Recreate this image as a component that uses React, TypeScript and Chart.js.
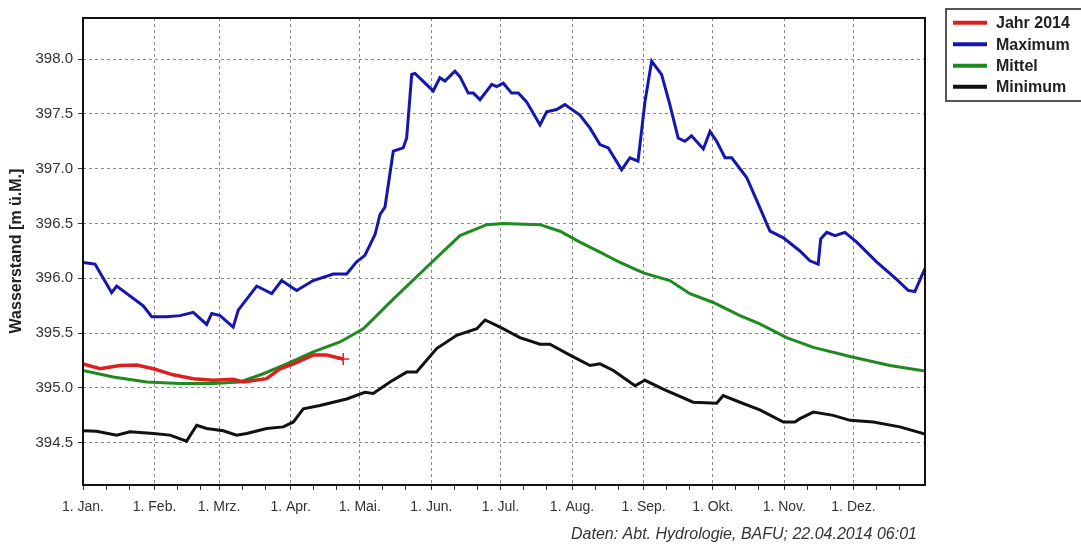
import { useEffect, useRef } from 'react';
import { Chart, registerables } from 'chart.js';

Chart.register(...registerables);

// ---- axis definitions ----
const X_MONTH_DAYS = [0, 31, 59, 90, 120, 151, 181, 212, 243, 273, 304, 334];
const X_MONTH_LABELS = ['1. Jan.', '1. Feb.', '1. Mrz.', '1. Apr.', '1. Mai.', '1. Jun.', '1. Jul.', '1. Aug.', '1. Sep.', '1. Okt.', '1. Nov.', '1. Dez.'];
const X_MINOR_DAYS = [10, 20, 41, 51, 69, 79, 100, 110, 130, 140, 161, 171, 191, 201, 222, 232, 253, 263, 283, 293, 314, 324, 344, 354];
const Y_TICKS = [394.5, 395.0, 395.5, 396.0, 396.5, 397.0, 397.5, 398.0];
const Y_MIN = 394.115;
const Y_MAX = 398.375;

// ---- series: day of year / water level [m ü.M.] ----
const JAHR_DAYS = [0, 7.4, 16, 23.3, 30.5, 39.1, 47.8, 56.5, 65.1, 69.5, 79.6, 85.4, 91.2, 99.8, 105.6, 112.8];
const JAHR_VALUES = [395.22, 395.175, 395.205, 395.21, 395.175, 395.12, 395.085, 395.07, 395.08, 395.055, 395.085, 395.175, 395.22, 395.3, 395.3, 395.265];

const MAX_DAYS = [0, 5.2, 12.4, 14.6, 26.1, 29.8, 36.3, 42, 47.8, 53.6, 55.8, 59.4, 65.1, 67.3, 75.3, 81.8, 86.1, 92.6, 99.8, 108.5, 114.3, 118.6, 122.2, 126.6, 128.7, 130.9, 134.5, 138.8, 140.3, 142.5, 143.9, 151.8, 154.7, 156.9, 161.2, 163.4, 167, 169.2, 172.1, 177.2, 179.3, 182.2, 185.8, 188.7, 192.3, 198.1, 201, 205.3, 208.9, 215.4, 219.8, 224.1, 227.7, 233.5, 237.1, 240.6, 243.6, 246.5, 250.8, 254.4, 258, 260.9, 263.8, 268.9, 271.8, 274.7, 278.3, 281.2, 287.7, 292.7, 297.8, 303.6, 310.8, 315.1, 318.7, 319.8, 322.4, 326, 330.3, 335.4, 344, 352.7, 357.7, 360.6, 363.5, 365];
const MAX_VALUES = [396.145, 396.13, 395.87, 395.93, 395.75, 395.65, 395.65, 395.66, 395.69, 395.58, 395.68, 395.66, 395.555, 395.71, 395.93, 395.86, 395.98, 395.89, 395.98, 396.04, 396.04, 396.15, 396.21, 396.4, 396.58, 396.65, 397.16, 397.19, 397.28, 397.86, 397.87, 397.71, 397.83, 397.8, 397.89, 397.84, 397.69, 397.69, 397.63, 397.77, 397.75, 397.78, 397.69, 397.69, 397.61, 397.4, 397.52, 397.54, 397.585, 397.49, 397.37, 397.22, 397.19, 396.99, 397.1, 397.07, 397.61, 397.98, 397.86, 397.585, 397.28, 397.25, 397.3, 397.18, 397.34, 397.25, 397.1, 397.1, 396.92, 396.68, 396.43, 396.37, 396.25, 396.16, 396.13, 396.36, 396.42, 396.39, 396.42, 396.33, 396.15, 395.99, 395.89, 395.88, 396.02, 396.09];

const MITTEL_DAYS = [0, 13.1, 27.6, 42, 56.5, 68.1, 78.2, 88.3, 99.8, 111.4, 121.5, 134.5, 151.1, 163.4, 175, 182.2, 198.1, 206.8, 215.4, 224.1, 232.8, 242.9, 254.4, 263.1, 273.2, 284.8, 293.4, 305, 316.6, 333.9, 349.8, 365];
const MITTEL_VALUES = [395.16, 395.1, 395.055, 395.04, 395.04, 395.055, 395.13, 395.22, 395.33, 395.42, 395.54, 395.81, 396.145, 396.39, 396.49, 396.5, 396.49, 396.43, 396.33, 396.24, 396.145, 396.05, 395.98, 395.86, 395.78, 395.66, 395.585, 395.46, 395.37, 395.28, 395.205, 395.155];

const MIN_DAYS = [0, 5.9, 14.6, 20.4, 30.5, 37.7, 44.9, 49.3, 53.6, 60.8, 66.6, 71, 79.6, 86.8, 91.2, 95.5, 102.7, 108.5, 114.3, 122.2, 125.8, 133.1, 140.3, 144.6, 153.3, 162, 170.7, 174.3, 180.8, 189.4, 198.1, 202.4, 211.1, 219.8, 224.1, 229.9, 239.3, 243.6, 251.5, 264.5, 274.7, 277.5, 284.8, 293.4, 303.6, 308.6, 310.8, 316.6, 325.2, 332.5, 342.6, 354.1, 365];
const MIN_VALUES = [394.61, 394.605, 394.57, 394.6, 394.585, 394.57, 394.515, 394.66, 394.63, 394.61, 394.57, 394.585, 394.63, 394.645, 394.69, 394.81, 394.84, 394.87, 394.9, 394.96, 394.95, 395.055, 395.145, 395.145, 395.36, 395.48, 395.54, 395.62, 395.555, 395.46, 395.4, 395.4, 395.3, 395.205, 395.22, 395.16, 395.02, 395.07, 394.99, 394.87, 394.86, 394.93, 394.87, 394.8, 394.69, 394.69, 394.72, 394.78, 394.75, 394.705, 394.69, 394.645, 394.58];

const SERIES_LABELS = ['Jahr 2014', 'Maximum', 'Mittel', 'Minimum'];
const SERIES_COLORS = ['#dc2020', '#1515b0', '#1f8a1f', '#111111'];
const FOOTER = 'Daten: Abt. Hydrologie, BAFU; 22.04.2014 06:01';
const Y_TITLE = 'Wasserstand [m ü.M.]';

const FONT = "'Liberation Sans', Arial, sans-serif";

const toPoints = (xs: number[], ys: number[]) => xs.map((x, i) => ({ x, y: ys[i] }));

const extrasPlugin = {
  id: 'extras',
  afterDraw(chart: any) {
    const { ctx, chartArea } = chart;
    const { left, top, right, bottom } = chartArea;
    ctx.save();
    // frame
    ctx.strokeStyle = '#111';
    ctx.lineWidth = 2;
    ctx.strokeRect(left, top, right - left, bottom - top);

    // y-axis title
    ctx.save();
    ctx.translate(17, 251);
    ctx.rotate(-Math.PI / 2);
    ctx.font = `bold 16px ${FONT}`;
    ctx.fillStyle = '#222';
    ctx.textAlign = 'center';
    ctx.textBaseline = 'middle';
    ctx.fillText(Y_TITLE, 0, 0);
    ctx.restore();

    // footer
    ctx.font = `italic 16px ${FONT}`;
    ctx.fillStyle = '#333';
    ctx.textAlign = 'right';
    ctx.textBaseline = 'middle';
    ctx.fillText(FOOTER, 917, 535);

    // legend
    ctx.strokeStyle = '#555';
    ctx.lineWidth = 2;
    ctx.strokeRect(946, 9, 140, 92);
    const rows = [22.7, 44.3, 65.7, 86.7];
    chart.data.datasets.forEach((ds: any, i: number) => {
      const y = rows[i];
      ctx.strokeStyle = ds.borderColor;
      ctx.lineWidth = 4;
      ctx.beginPath();
      ctx.moveTo(953, y);
      ctx.lineTo(987, y);
      ctx.stroke();
      ctx.font = `bold 16px ${FONT}`;
      ctx.fillStyle = '#222';
      ctx.textAlign = 'left';
      ctx.textBaseline = 'middle';
      ctx.fillText(ds.label, 996, y + 1);
    });
    ctx.restore();
  },
};

export default function App() {
  const ref = useRef<HTMLCanvasElement>(null);

  useEffect(() => {
    const canvas = ref.current;
    if (!canvas) return;
    const seriesX = [JAHR_DAYS, MAX_DAYS, MITTEL_DAYS, MIN_DAYS];
    const seriesY = [JAHR_VALUES, MAX_VALUES, MITTEL_VALUES, MIN_VALUES];
    const datasets = SERIES_LABELS.map((label, i) => {
      const pts = toPoints(seriesX[i], seriesY[i]);
      const isJahr = i === 0;
      return {
        label,
        data: pts,
        borderColor: SERIES_COLORS[i],
        backgroundColor: SERIES_COLORS[i],
        borderWidth: isJahr ? 3.5 : 3,
        fill: false,
        tension: 0,
        pointStyle: 'cross',
        pointRadius: (c: any) => (isJahr && c.dataIndex === pts.length - 1 ? 6 : 0),
        pointBorderWidth: 1.5,
        pointBorderColor: SERIES_COLORS[i],
      };
    });
    const allX = [...X_MONTH_DAYS, ...X_MINOR_DAYS].sort((a, b) => a - b);

    const chart = new Chart(canvas, {
      type: 'line',
      data: { datasets } as any,
      options: {
        animation: false,
        responsive: false,
        devicePixelRatio: 1,
        layout: { padding: { top: 18, right: 156, left: 0, bottom: 0 } },
        plugins: { legend: { display: false }, tooltip: { enabled: false } },
        scales: {
          x: {
            type: 'linear',
            min: 0,
            max: 365,
            afterFit: (s: any) => { s.height = 59; },
            afterBuildTicks: (s: any) => { s.ticks = allX.map((v) => ({ value: v })); },
            ticks: {
              autoSkip: false,
              maxRotation: 0,
              padding: 9,
              color: '#333',
              font: { family: FONT, size: 14 },
              callback: (v: any) => {
                const k = X_MONTH_DAYS.indexOf(Number(v));
                return k >= 0 ? X_MONTH_LABELS[k] : '';
              },
            },
            grid: {
              color: (c: any) => (c.tick && X_MONTH_DAYS.includes(c.tick.value) ? '#8a8a8a' : 'rgba(0,0,0,0)'),
              tickColor: '#333',
              tickLength: 5,
              lineWidth: 1,
            },
            border: { display: false, dash: [3, 3] },
          },
          y: {
            type: 'linear',
            min: Y_MIN,
            max: Y_MAX,
            afterFit: (s: any) => { s.width = 83; },
            afterBuildTicks: (s: any) => { s.ticks = Y_TICKS.map((v) => ({ value: v })); },
            ticks: {
              autoSkip: false,
              padding: 5,
              color: '#333',
              font: { family: FONT, size: 15 },
              callback: (v: any) => Number(v).toFixed(1),
            },
            grid: {
              color: '#8a8a8a',
              tickColor: '#333',
              tickLength: 5,
              lineWidth: 1,
            },
            border: { display: false, dash: [3, 3] },
          },
        },
      } as any,
      plugins: [extrasPlugin],
    });
    return () => chart.destroy();
  }, []);

  return (
    <div style={{ position: 'fixed', left: 0, top: 0, width: 1081, height: 544, background: '#fff' }}>
      <canvas ref={ref} width={1081} height={544} style={{ display: 'block', width: 1081, height: 544 }} />
    </div>
  );
}
